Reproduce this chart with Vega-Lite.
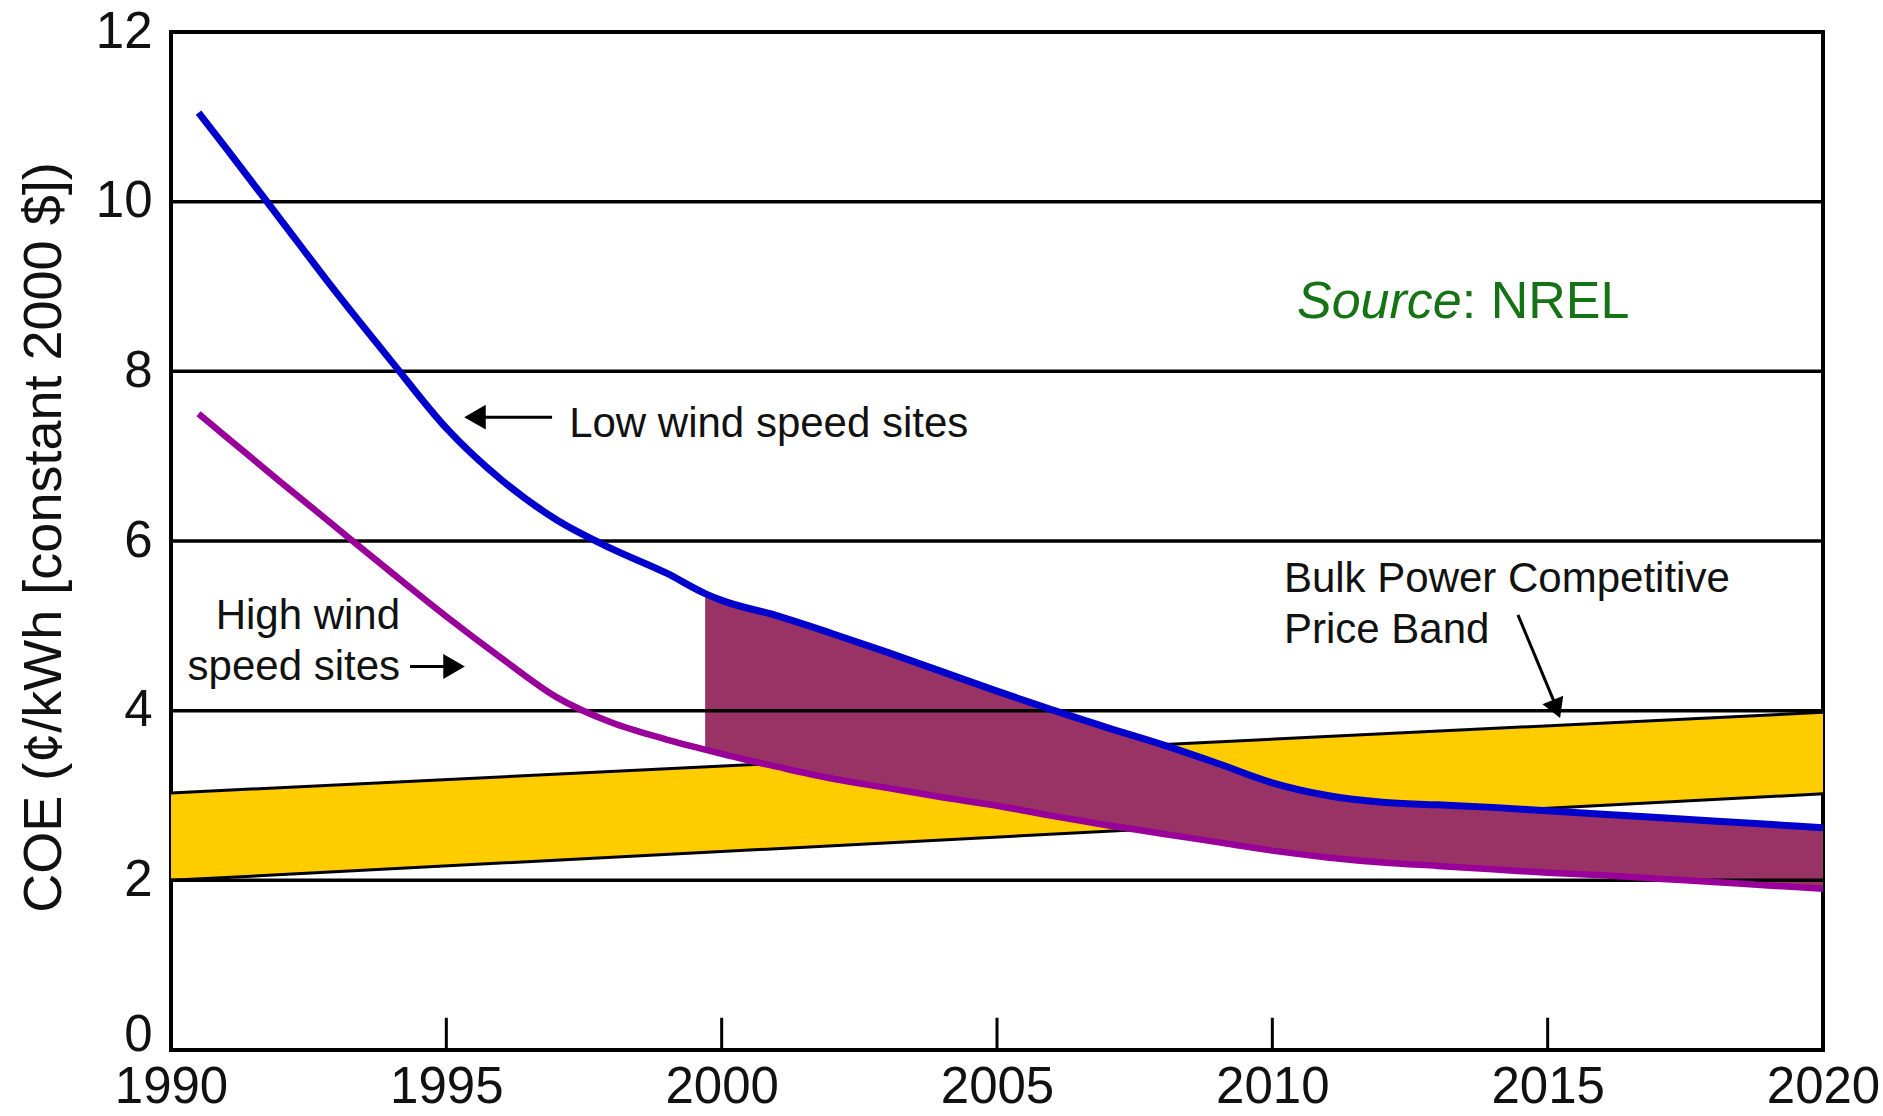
{
  "$schema": "https://vega.github.io/schema/vega-lite/v6.json",
  "width": 1652,
  "height": 1018,
  "autosize": {"type": "none"},
  "padding": {"left": 171, "top": 32, "right": 60, "bottom": 66},
  "background": "white",
  "config": {
    "font": "Liberation Sans",
    "view": {"stroke": "#000000", "strokeWidth": 4},
    "axis": {"grid": false, "ticks": false, "domain": false, "labelFont": "Liberation Sans", "labelFontSize": 51, "labelColor": "#111111", "labelFlush": false, "labelOverlap": false},
    "axisX": {"labelPadding": 12},
    "axisY": {"labelPadding": 19}
  },
  "datasets": {
    "curves": [
      {"year": 1990.5, "low": 11.05, "high": 7.5},
      {"year": 1991, "low": 10.63, "high": 7.23},
      {"year": 1992, "low": 9.78, "high": 6.69},
      {"year": 1993, "low": 8.93, "high": 6.16},
      {"year": 1994, "low": 8.12, "high": 5.63},
      {"year": 1995, "low": 7.33, "high": 5.11},
      {"year": 1996, "low": 6.72, "high": 4.62},
      {"year": 1997, "low": 6.25, "high": 4.16},
      {"year": 1998, "low": 5.91, "high": 3.86},
      {"year": 1999, "low": 5.62, "high": 3.66},
      {"year": 1999.7, "low": 5.38, "high": 3.54},
      {"year": 2000, "low": 5.30, "high": 3.49},
      {"year": 2001, "low": 5.12, "high": 3.34},
      {"year": 2002, "low": 4.91, "high": 3.20},
      {"year": 2003, "low": 4.69, "high": 3.09},
      {"year": 2004, "low": 4.46, "high": 2.98},
      {"year": 2005, "low": 4.23, "high": 2.88},
      {"year": 2006, "low": 4.01, "high": 2.76},
      {"year": 2007, "low": 3.80, "high": 2.65},
      {"year": 2008, "low": 3.60, "high": 2.55},
      {"year": 2009, "low": 3.38, "high": 2.45},
      {"year": 2010, "low": 3.15, "high": 2.35},
      {"year": 2011, "low": 3.00, "high": 2.27},
      {"year": 2012, "low": 2.92, "high": 2.21},
      {"year": 2013, "low": 2.89, "high": 2.17},
      {"year": 2014, "low": 2.86, "high": 2.13},
      {"year": 2015, "low": 2.82, "high": 2.09},
      {"year": 2016, "low": 2.78, "high": 2.06},
      {"year": 2017, "low": 2.74, "high": 2.02},
      {"year": 2018, "low": 2.70, "high": 1.98},
      {"year": 2019, "low": 2.66, "high": 1.94},
      {"year": 2020, "low": 2.62, "high": 1.90}
    ],
    "band": [
      {"year": 1990, "lo": 2.0, "hi": 3.03},
      {"year": 2020, "lo": 3.02, "hi": 3.98}
    ],
    "grid": [{"v": 2}, {"v": 4}, {"v": 6}, {"v": 8}, {"v": 10}],
    "ticks": [{"year": 1995}, {"year": 2000}, {"year": 2005}, {"year": 2010}, {"year": 2015}],
    "notes": [
      {"id": "low", "year": 1997.23, "v": 7.23, "text": "Low wind speed sites"},
      {"id": "high1", "year": 1994.16, "v": 4.96, "text": "High wind"},
      {"id": "high2", "year": 1994.16, "v": 4.36, "text": "speed sites"},
      {"id": "bulk1", "year": 2010.21, "v": 5.40, "text": "Bulk Power Competitive"},
      {"id": "bulk2", "year": 2010.21, "v": 4.80, "text": "Price Band"},
      {"id": "src1", "year": 2013.44, "v": 8.63, "text": "Source"},
      {"id": "src2", "year": 2013.44, "v": 8.63, "text": ": NREL"}
    ],
    "arrows": [
      {"id": "low", "year": 1995.5, "year2": 1996.92, "v": 7.46, "v2": 7.46},
      {"id": "high", "year": 1994.34, "year2": 1995.0, "v": 4.52, "v2": 4.52},
      {"id": "bulk", "year": 2014.46, "year2": 2015.12, "v": 5.13, "v2": 4.1}
    ],
    "heads": [
      {"id": "low", "year": 1995.52, "v": 7.46},
      {"id": "high", "year": 1995.14, "v": 4.52},
      {"id": "bulk", "year": 2015.16, "v": 4.02}
    ]
  },
  "layer": [
    {
      "data": {"name": "band"},
      "mark": {"type": "area", "color": "#FFCC00", "opacity": 1},
      "encoding": {
        "x": {"field": "year", "type": "quantitative", "scale": {"domain": [1990, 2020], "nice": false, "zero": false}, "axis": {"values": [1990, 1995, 2000, 2005, 2010, 2015, 2020], "format": "d"}, "title": null},
        "y": {"field": "lo", "type": "quantitative", "scale": {"domain": [0, 12], "nice": false}, "axis": {"values": [0, 2, 4, 6, 8, 10, 12], "format": "d", "labelBaseline": {"condition": {"test": "datum.value === 0", "value": "alphabetic"}, "value": "middle"}, "titleX": -111, "titleY": 505, "titleAngle": -90, "titleAlign": "center", "titleBaseline": "alphabetic", "titleFont": "Liberation Sans", "titleFontSize": 54, "titleFontWeight": "normal", "titleColor": "#111111"}, "title": "COE (¢/kWh [constant 2000 $])"},
        "y2": {"field": "hi"}
      }
    },
    {
      "data": {"name": "band"},
      "mark": {"type": "line", "color": "#000000", "strokeWidth": 3},
      "encoding": {
        "x": {"field": "year", "type": "quantitative", "title": null},
        "y": {"field": "lo", "type": "quantitative", "title": "COE (¢/kWh [constant 2000 $])"}
      }
    },
    {
      "data": {"name": "band"},
      "mark": {"type": "line", "color": "#000000", "strokeWidth": 3},
      "encoding": {
        "x": {"field": "year", "type": "quantitative", "title": null},
        "y": {"field": "hi", "type": "quantitative", "title": "COE (¢/kWh [constant 2000 $])"}
      }
    },
    {
      "data": {"name": "curves"},
      "transform": [{"filter": "datum.year >= 1999.7"}],
      "mark": {"type": "area", "color": "#993366", "opacity": 1, "interpolate": "monotone"},
      "encoding": {
        "x": {"field": "year", "type": "quantitative", "title": null},
        "y": {"field": "low", "type": "quantitative", "title": "COE (¢/kWh [constant 2000 $])"},
        "y2": {"field": "high"}
      }
    },
    {
      "data": {"name": "grid"},
      "mark": {"type": "rule", "color": "#000000", "strokeWidth": 3.5},
      "encoding": {
        "y": {"field": "v", "type": "quantitative", "title": "COE (¢/kWh [constant 2000 $])"}
      }
    },
    {
      "data": {"name": "ticks"},
      "mark": {"type": "rule", "color": "#000000", "strokeWidth": 3},
      "encoding": {
        "x": {"field": "year", "type": "quantitative", "title": null},
        "y": {"datum": 0, "type": "quantitative"},
        "y2": {"datum": 0.38}
      }
    },
    {
      "data": {"name": "curves"},
      "mark": {"type": "line", "color": "#990099", "strokeWidth": 6.5, "interpolate": "monotone"},
      "encoding": {
        "x": {"field": "year", "type": "quantitative", "title": null},
        "y": {"field": "high", "type": "quantitative", "title": "COE (¢/kWh [constant 2000 $])"}
      }
    },
    {
      "data": {"name": "curves"},
      "mark": {"type": "line", "color": "#0000CC", "strokeWidth": 7, "interpolate": "monotone"},
      "encoding": {
        "x": {"field": "year", "type": "quantitative", "title": null},
        "y": {"field": "low", "type": "quantitative", "title": "COE (¢/kWh [constant 2000 $])"}
      }
    },
    {
      "data": {"name": "arrows"},
      "mark": {"type": "rule", "color": "#000000", "strokeWidth": 3},
      "encoding": {
        "x": {"field": "year", "type": "quantitative", "title": null},
        "x2": {"field": "year2"},
        "y": {"field": "v", "type": "quantitative", "title": "COE (¢/kWh [constant 2000 $])"},
        "y2": {"field": "v2"}
      }
    },
    {
      "data": {"name": "heads"},
      "transform": [{"filter": "datum.id === 'low'"}],
      "mark": {"type": "point", "shape": "triangle-left", "filled": true, "color": "#000000", "size": 620, "opacity": 1},
      "encoding": {
        "x": {"field": "year", "type": "quantitative", "title": null},
        "y": {"field": "v", "type": "quantitative", "title": "COE (¢/kWh [constant 2000 $])"}
      }
    },
    {
      "data": {"name": "heads"},
      "transform": [{"filter": "datum.id === 'high'"}],
      "mark": {"type": "point", "shape": "triangle-right", "filled": true, "color": "#000000", "size": 620, "opacity": 1},
      "encoding": {
        "x": {"field": "year", "type": "quantitative", "title": null},
        "y": {"field": "v", "type": "quantitative", "title": "COE (¢/kWh [constant 2000 $])"}
      }
    },
    {
      "data": {"name": "heads"},
      "transform": [{"filter": "datum.id === 'bulk'"}],
      "mark": {"type": "point", "shape": "triangle-down", "filled": true, "color": "#000000", "size": 500, "opacity": 1, "angle": -22},
      "encoding": {
        "x": {"field": "year", "type": "quantitative", "title": null},
        "y": {"field": "v", "type": "quantitative", "title": "COE (¢/kWh [constant 2000 $])"}
      }
    },
    {
      "data": {"name": "notes"},
      "transform": [{"filter": {"field": "id", "oneOf": ["low", "bulk1", "bulk2"]}}],
      "mark": {"type": "text", "align": "left", "baseline": "alphabetic", "font": "Liberation Sans", "fontSize": 42, "color": "#111111"},
      "encoding": {
        "x": {"field": "year", "type": "quantitative", "title": null},
        "y": {"field": "v", "type": "quantitative", "title": "COE (¢/kWh [constant 2000 $])"},
        "text": {"field": "text"}
      }
    },
    {
      "data": {"name": "notes"},
      "transform": [{"filter": {"field": "id", "oneOf": ["high1", "high2"]}}],
      "mark": {"type": "text", "align": "right", "baseline": "alphabetic", "font": "Liberation Sans", "fontSize": 42, "color": "#111111"},
      "encoding": {
        "x": {"field": "year", "type": "quantitative", "title": null},
        "y": {"field": "v", "type": "quantitative", "title": "COE (¢/kWh [constant 2000 $])"},
        "text": {"field": "text"}
      }
    },
    {
      "data": {"name": "notes"},
      "transform": [{"filter": "datum.id === 'src1'"}],
      "mark": {"type": "text", "align": "right", "baseline": "alphabetic", "font": "Liberation Sans", "fontSize": 52, "fontStyle": "italic", "color": "#157315"},
      "encoding": {
        "x": {"field": "year", "type": "quantitative", "title": null},
        "y": {"field": "v", "type": "quantitative", "title": "COE (¢/kWh [constant 2000 $])"},
        "text": {"field": "text"}
      }
    },
    {
      "data": {"name": "notes"},
      "transform": [{"filter": "datum.id === 'src2'"}],
      "mark": {"type": "text", "align": "left", "baseline": "alphabetic", "font": "Liberation Sans", "fontSize": 52, "color": "#157315"},
      "encoding": {
        "x": {"field": "year", "type": "quantitative", "title": null},
        "y": {"field": "v", "type": "quantitative", "title": "COE (¢/kWh [constant 2000 $])"},
        "text": {"field": "text"}
      }
    }
  ]
}
